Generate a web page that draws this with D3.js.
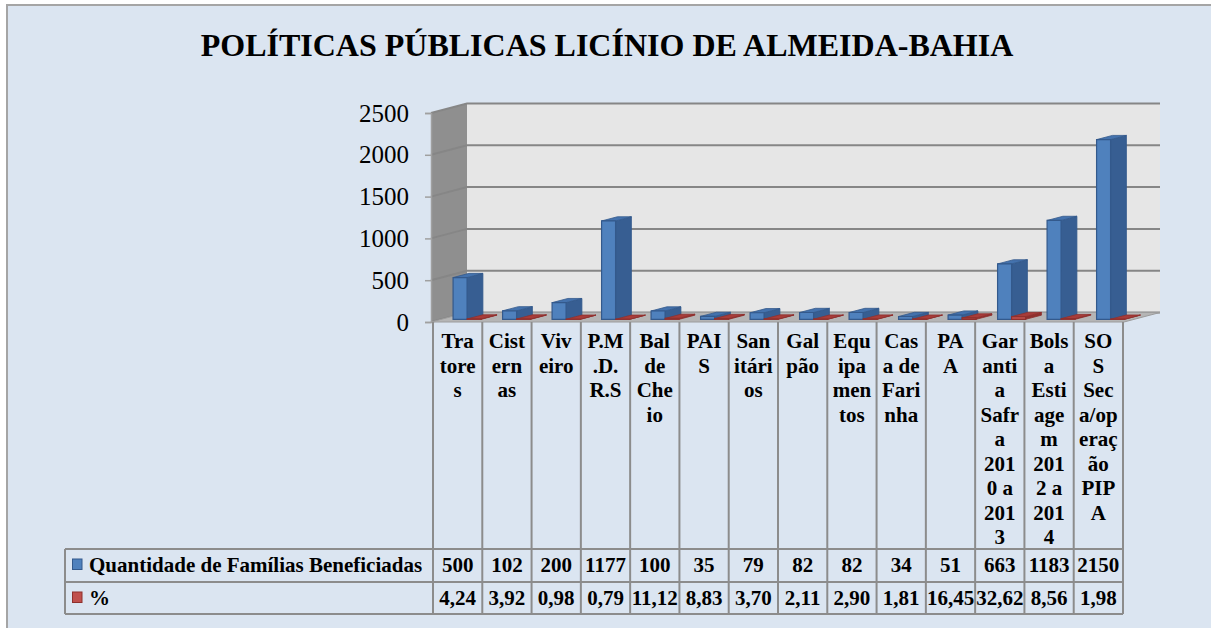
<!DOCTYPE html>
<html>
<head>
<meta charset="utf-8">
<script src="https://cdn.jsdelivr.net/npm/d3@7"></script>
<style>
  body { margin: 0; background: #fff; }
</style>
</head>
<body>
<div id="chart"></div>
<script>
// data
var categories = ["Tratores", "Cisternas", "Viveiro", "P.M.D.R.S", "Balde Cheio", "PAIS",
  "Sanitários", "Galpão", "Equipamentos", "Casa de Farinha", "PA",
  "Garantia Safra 2010 a 2013", "Bolsa Estiagem 2012 a 2014", "SOS Seca/operação PIPA"];
// header labels as they wrap in the table
var categoryLines = [
  ["Tra", "tore", "s"], ["Cist", "ern", "as"], ["Viv", "eiro"], ["P.M", ".D.", "R.S"],
  ["Bal", "de", "Che", "io"], ["PAI", "S"], ["San", "itári", "os"], ["Gal", "pão"],
  ["Equ", "ipa", "men", "tos"], ["Cas", "a de", "Fari", "nha"], ["PA", "A"],
  ["Gar", "anti", "a", "Safr", "a", "201", "0 a", "201", "3"],
  ["Bols", "a", "Esti", "age", "m", "201", "2 a", "201", "4"],
  ["SO", "S", "Sec", "a/op", "eraç", "ão", "PIP", "A"]
];
var familias = [500, 102, 200, 1177, 100, 35, 79, 82, 82, 34, 51, 663, 1183, 2150];
var percentual = [4.24, 3.92, 0.98, 0.79, 11.12, 8.83, 3.70, 2.11, 2.90, 1.81, 16.45, 32.62, 8.56, 1.98];
var seriesNames = ["Quantidade de Famílias Beneficiadas", "%"];
var yTicks = [0, 500, 1000, 1500, 2000, 2500];
var title = "POLÍTICAS PÚBLICAS LICÍNIO DE ALMEIDA-BAHIA";

var W = 1211, H = 628;
var DX = 36, DY = -9.5; // depth vector of the 3d box
var SERIF = '"Liberation Serif", "Noto Serif", FreeSerif, "DejaVu Serif", "Times New Roman", serif';

var svg = d3.select("#chart").append("svg")
  .attr("width", W).attr("height", H)
  .style("font-family", SERIF);

// chart area frame
svg.append("rect").attr("x", 7).attr("y", 5).attr("width", W + 10).attr("height", H + 10)
  .attr("fill", "#dbe5f1").attr("stroke", "#a5a5a5").attr("stroke-width", 2);

svg.append("text").attr("x", 607).attr("y", 56).attr("text-anchor", "middle")
  .attr("font-size", 32).attr("font-weight", "bold").text(title);

var x = d3.scaleBand().domain(categories).range([431, 1124]);
var y = d3.scaleLinear().domain([0, 2500]).range([322, 113]);
var tx = x.copy().range([433, 1123]);

function pt(px, v, d) {
  return [px + DX * d, y(v) + DY * d];
}
function poly(p) {
  return p.map(function(q) { return q[0] + "," + q[1]; }).join(" ");
}

// walls
var walls = svg.append("g");
walls.append("polygon") // back wall
  .attr("points", poly([pt(431, 0, 1), pt(1124, 0, 1), pt(1124, 2500, 1), pt(431, 2500, 1)]))
  .attr("fill", "#e6e6e6");
walls.append("polygon") // side wall
  .attr("points", poly([pt(431, 0, 0), pt(431, 0, 1), pt(431, 2500, 1), pt(431, 2500, 0)]))
  .attr("fill", "#8f8f8f");

// grid lines
walls.selectAll(".grid").data(yTicks).enter().append("polyline")
  .attr("class", "grid")
  .attr("points", function(v) { return poly([pt(431, v, 0), pt(431, v, 1), pt(1124, v, 1)]); })
  .attr("fill", "none").attr("stroke", "#868686").attr("stroke-width", 2);

// floor
walls.append("polygon")
  .attr("points", poly([pt(431, 0, 0), pt(1124, 0, 0), pt(1124, 0, 1), pt(431, 0, 1)]))
  .attr("fill", "#b5b5b5").attr("stroke", "#9c9c9c").attr("stroke-width", 1);

// y axis on the front edge of the side wall
var yAxis = svg.append("g").attr("transform", "translate(431,0)")
  .call(d3.axisLeft(y).tickValues(yTicks).tickSize(6).tickPadding(16).tickFormat(d3.format("d")));
yAxis.attr("font-family", SERIF);
yAxis.select(".domain").attr("stroke", "#a0a0a0").attr("stroke-width", 1.5);
yAxis.selectAll(".tick line").attr("stroke", "#a0a0a0").attr("stroke-width", 1.5);
yAxis.selectAll(".tick text").attr("font-size", 25).attr("fill", "#000");

// 3d columns
var series = [
  { values: familias, off: 12, front: "#4f81bd", side: "#375e92", top: "#4472ad", line: "#33598c" },
  { values: percentual, off: 26, front: "#c0504d", side: "#8f302d", top: "#a83c39", line: "#8f302d" }
];
var BW = 14, D0 = 0.28, D1 = 0.72;

var bars = svg.append("g");
categories.forEach(function(c, i) {
  series.forEach(function(s) {
    var x0 = x(c) + s.off, x1 = x0 + BW, v = s.values[i];
    var g = bars.append("g");
    g.append("polygon").attr("points", poly([pt(x1, 0, D0), pt(x1, 0, D1), pt(x1, v, D1), pt(x1, v, D0)]))
      .attr("fill", s.side).attr("stroke", s.line).attr("stroke-width", 0.8);
    g.append("polygon").attr("points", poly([pt(x0, v, D0), pt(x1, v, D0), pt(x1, v, D1), pt(x0, v, D1)]))
      .attr("fill", s.top).attr("stroke", s.line).attr("stroke-width", 0.8);
    g.append("polygon").attr("points", poly([pt(x0, 0, D0), pt(x1, 0, D0), pt(x1, v, D0), pt(x0, v, D0)]))
      .attr("fill", s.front).attr("stroke", s.line).attr("stroke-width", 1.2);
  });
});

// data table
var table = svg.append("g");
var tTop = 322, r1 = 549, r2 = 582, r3 = 614, legL = 65;
var lineC = "#8c8c8c";

d3.range(categories.length + 1).forEach(function(i) {
  var lx = i < categories.length ? tx(categories[i]) : tx.range()[1];
  table.append("line").attr("x1", lx).attr("x2", lx).attr("y1", tTop).attr("y2", r3)
    .attr("stroke", lineC).attr("stroke-width", 2);
});
[r1, r2, r3].forEach(function(ry) {
  table.append("line").attr("x1", legL).attr("x2", tx.range()[1]).attr("y1", ry).attr("y2", ry)
    .attr("stroke", lineC).attr("stroke-width", 2);
});
table.append("line").attr("x1", legL).attr("x2", legL).attr("y1", r1).attr("y2", r3)
  .attr("stroke", lineC).attr("stroke-width", 2);

var fs = 21;
categories.forEach(function(c, i) {
  var cx = tx(c) + tx.bandwidth() / 2;
  var t = table.append("text").attr("text-anchor", "middle").attr("font-size", fs)
    .attr("font-weight", "bold");
  categoryLines[i].forEach(function(ln, j) {
    t.append("tspan").attr("x", cx).attr("y", 348 + j * 24.5).text(ln);
  });
  table.append("text").attr("x", cx).attr("y", 572).attr("text-anchor", "middle")
    .attr("font-size", fs).attr("font-weight", "bold").text(familias[i]);
  table.append("text").attr("x", cx).attr("y", 605).attr("text-anchor", "middle")
    .attr("font-size", fs).attr("font-weight", "bold")
    .text(percentual[i].toFixed(2).replace(".", ","));
});

// legend keys in the table
seriesNames.forEach(function(n, k) {
  var ry = k === 0 ? r1 : r2;
  table.append("rect").attr("x", 72.5).attr("y", ry + 10).attr("width", 9.5).attr("height", 10.5)
    .attr("fill", series[k].front).attr("stroke", series[k].line).attr("stroke-width", 1);
  table.append("text").attr("x", 89).attr("y", ry + 23).attr("font-size", fs)
    .attr("font-weight", "bold").text(n);
});
</script>
</body>
</html>
